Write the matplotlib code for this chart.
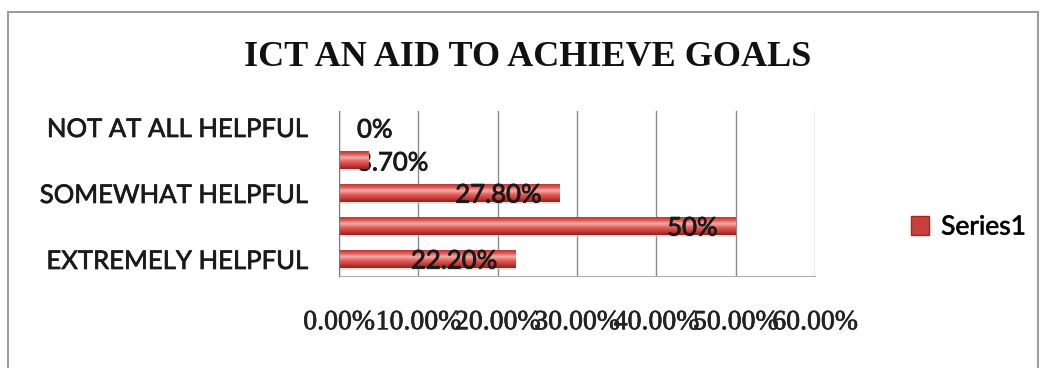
import numpy as np
import matplotlib
matplotlib.use("Agg")
import matplotlib.pyplot as plt
import matplotlib.patheffects as pe
from matplotlib.patches import Rectangle
from matplotlib.colors import LinearSegmentedColormap

# Survey responses, bottom to top
categories = ["EXTREMELY HELPFUL", "", "SOMEWHAT HELPFUL", "", "NOT AT ALL HELPFUL"]
values = [22.2, 50.0, 27.8, 3.7, 0.0]
value_labels = ["22.20%", "50%", "27.80%", "3.70%", "0%"]
x_ticks = [0, 10, 20, 30, 40, 50, 60]
x_tick_labels = ["0.00%", "10.00%", "20.00%", "30.00%", "40.00%", "50.00%", "60.00%"]
series_name = "Series1"
title = "ICT AN AID TO ACHIEVE GOALS"

W, H = 1040, 368
fig = plt.figure(figsize=(W / 100, H / 100), dpi=100)
fig.patch.set_facecolor("white")

heavy = [pe.withStroke(linewidth=0.6, foreground="#1a1a1a")]

# outer chart frame
fig.patches.append(Rectangle((8 / W, -0.02), 1030 / W, 1 - 12 / H + 0.02,
                             transform=fig.transFigure, fill=False,
                             edgecolor="#9a9a9a", linewidth=1.4))

ax = fig.add_axes([339 / W, 92.5 / H, 476 / W, 165 / H])
ax.set_xlim(0, 60)
ax.set_ylim(-0.5, len(values) - 0.5)

ypos = np.arange(len(values))
bars = ax.barh(ypos, values, height=0.55, color="#D24B47", zorder=3)

# cylinder-like vertical shading of each bar
shade = LinearSegmentedColormap.from_list(
    "cyl", ["#8E2420", "#C63C38", "#E2605C", "#F4ACA8", "#DC5450", "#AC3230"])
grad = np.linspace(0, 1, 64).reshape(-1, 1)
for b in bars:
    x0, y0, w, h = b.get_x(), b.get_y(), b.get_width(), b.get_height()
    if w <= 0:
        continue
    im = ax.imshow(grad, cmap=shade, aspect="auto", origin="lower",
                   extent=[x0, x0 + w, y0, y0 + h], zorder=4)
    im.set_clip_path(b)
    # faint shadow under the bar
    ax.add_patch(Rectangle((x0, y0 - 0.07), w, 0.07, color="#cfcfcf",
                           alpha=0.6, zorder=2, linewidth=0))

# value labels: long bars get the label inside the end, short ones
# start just right of the axis (drawn beneath the bar)
label_font = dict(fontsize=18.5, family="Lato", color="#1a1a1a", va="center",
                  path_effects=heavy)
for v, lab, y in zip(values, value_labels, ypos):
    if v >= 10:
        ax.annotate(lab, (v, y), xytext=(-18, -2), textcoords="offset pixels",
                    ha="right", zorder=6, **label_font)
    else:
        ax.annotate(lab, (0, y), xytext=(18, -3), textcoords="offset pixels",
                    ha="left", zorder=2.5, **label_font)

ax.set_xticks(x_ticks)
ax.set_xticklabels(x_tick_labels, family="Liberation Serif", fontsize=20,
                   color="#222222")
ax.set_yticks(ypos)
ax.set_yticklabels(categories, family="Lato", fontsize=18.5, color="#1a1a1a")
for t in ax.get_xticklabels() + ax.get_yticklabels():
    t.set_path_effects([pe.withStroke(linewidth=0.5, foreground=t.get_color())])
ax.tick_params(axis="x", length=0, pad=25)
ax.tick_params(axis="y", length=0, pad=21.5)

ax.grid(axis="x", color="#8a8a8a", linewidth=1.0, zorder=1)
for s in ["top", "right"]:
    ax.spines[s].set_visible(False)
ax.spines["left"].set_color("#7a7a7a")
ax.spines["bottom"].set_color("#b0b0b0")
ax.spines["left"].set_zorder(5)

fig.text(528 / W, 1 - 57 / H, title, ha="center", va="center",
         family="Liberation Serif", fontweight="bold", fontsize=26,
         color="#111111")

handle = Rectangle((0, 0), 1, 1, facecolor="#C8403C", edgecolor="#9a2a28")
leg = fig.legend([handle], [series_name], loc="center left",
                 bbox_to_anchor=(887 / W, 1 - 227 / H), frameon=False,
                 prop={"family": "Lato", "size": 19}, handlelength=0.7,
                 handleheight=0.7, handletextpad=0.45)
for t in leg.get_texts():
    t.set_path_effects([pe.withStroke(linewidth=0.5, foreground="#1a1a1a")])

fig.savefig("out.png", dpi=100, facecolor="white")
